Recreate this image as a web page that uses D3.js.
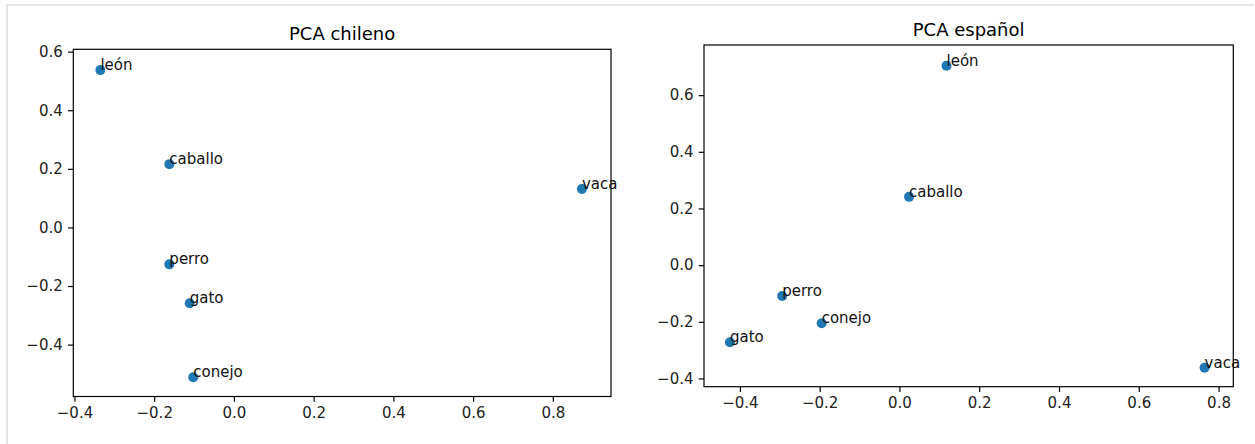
<!DOCTYPE html>
<html>
<head>
<meta charset="utf-8">
<script src="https://cdn.jsdelivr.net/npm/d3@7"></script>
<style>
  body { margin: 0; background: #fff; }
  svg { font-family: "DejaVu Sans", sans-serif; }
</style>
</head>
<body>
<svg id="chart"></svg>
<script>
// data
const wordsChile = ["león", "caballo", "vaca", "perro", "gato", "conejo"];
const chileX = [-0.335, -0.162, 0.873, -0.162, -0.111, -0.102];
const chileY = [0.537, 0.216, 0.131, -0.126, -0.259, -0.511];

const wordsEsp = ["león", "caballo", "perro", "conejo", "gato", "vaca"];
const espX = [0.118, 0.024, -0.294, -0.195, -0.425, 0.765];
const espY = [0.704, 0.241, -0.109, -0.205, -0.272, -0.362];

const xTicks = [-0.4, -0.2, 0.0, 0.2, 0.4, 0.6, 0.8];
const yTicks = [-0.4, -0.2, 0.0, 0.2, 0.4, 0.6];

const width = 1255;
const height = 444;

const svg = d3.select("#chart")
              .attr("width", width)
              .attr("height", height);

// light frame of the notebook output cell
svg.append("line")
   .attr("x1", 6).attr("x2", 1254).attr("y1", 5).attr("y2", 5)
   .attr("stroke", "#e4e4e4").attr("stroke-width", 2);
svg.append("line")
   .attr("x1", 7).attr("x2", 7).attr("y1", 5).attr("y2", height)
   .attr("stroke", "#e4e4e4").attr("stroke-width", 2);

const fmt = d3.format(".1f");

function drawPanel(opts) {
  const x = d3.scaleLinear().domain(opts.xDomain).range([opts.left, opts.right]);
  const y = d3.scaleLinear().domain(opts.yDomain).range([opts.bottom, opts.top]);

  const g = svg.append("g");

  g.append("g")
   .attr("transform", "translate(0," + opts.bottom + ")")
   .call(d3.axisBottom(x).tickValues(xTicks).tickFormat(fmt)
           .tickSize(5.25).tickPadding(5.25).tickSizeOuter(0));

  g.append("g")
   .attr("transform", "translate(" + opts.left + ",0)")
   .call(d3.axisLeft(y).tickValues(yTicks).tickFormat(fmt)
           .tickSize(5.25).tickPadding(5.25).tickSizeOuter(0));

  g.selectAll(".domain").remove();
  g.selectAll(".tick line").attr("stroke", "#000").attr("stroke-width", 1.2);
  g.selectAll(".tick text")
   .attr("fill", "#222")
   .style("font-size", "15px")
   .style("font-family", "'DejaVu Sans', sans-serif");

  g.append("rect")
   .attr("x", opts.left)
   .attr("y", opts.top)
   .attr("width", opts.right - opts.left)
   .attr("height", opts.bottom - opts.top)
   .attr("fill", "none")
   .attr("stroke", "#000")
   .attr("stroke-width", 1.2);

  g.append("text")
   .attr("x", (opts.left + opts.right) / 2)
   .attr("y", opts.top - 9.5)
   .attr("text-anchor", "middle")
   .style("font-size", "18px")
   .attr("fill", "#000")
   .text(opts.title);

  const pts = opts.words.map((w, i) => ({w: w, x: opts.xs[i], y: opts.ys[i]}));

  g.selectAll("circle")
   .data(pts)
   .enter()
   .append("circle")
   .attr("cx", d => x(d.x))
   .attr("cy", d => y(d.y))
   .attr("r", 5)
   .attr("fill", "#1f77b4");

  g.selectAll(".lbl")
   .data(pts)
   .enter()
   .append("text")
   .attr("class", "lbl")
   .attr("x", d => x(d.x))
   .attr("y", d => y(d.y))
   .style("font-size", "15px")
   .attr("fill", "#111")
   .text(d => d.w);
}

drawPanel({
  title: "PCA chileno",
  words: wordsChile, xs: chileX, ys: chileY,
  xDomain: [-0.403, 0.946], yDomain: [-0.577, 0.608],
  left: 73.3, right: 611, top: 49.3, bottom: 396.5
});

drawPanel({
  title: "PCA español",
  words: wordsEsp, xs: espX, ys: espY,
  xDomain: [-0.490, 0.837], yDomain: [-0.429, 0.777],
  left: 704, right: 1233.3, top: 45, bottom: 386.7
});
</script>
</body>
</html>
